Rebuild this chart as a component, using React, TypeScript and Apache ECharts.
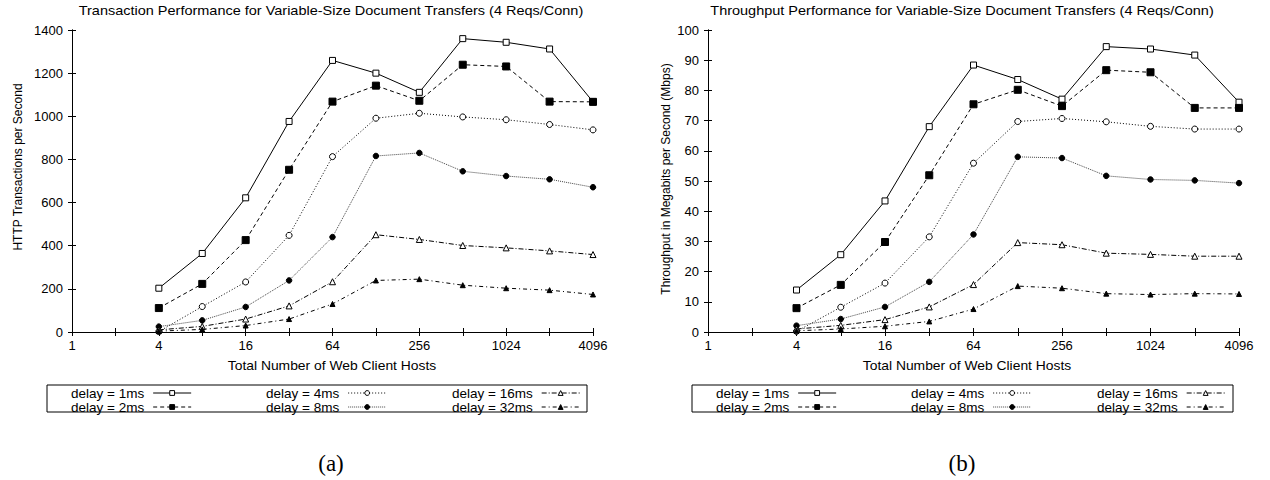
import React, { useEffect, useRef } from "react";
import * as echarts from "echarts";

// ---- data ----
const hosts = [4, 8, 16, 32, 64, 128, 256, 512, 1024, 2048, 4096];
const seriesNames = ["delay = 1ms", "delay = 2ms", "delay = 4ms", "delay = 8ms", "delay = 16ms", "delay = 32ms"];

const tps1 = [203, 364, 622, 976, 1259, 1200, 1111, 1360, 1343, 1312, 1067];
const tps2 = [111, 223, 426, 752, 1068, 1142, 1072, 1239, 1231, 1068, 1067];
const tps4 = [2, 118, 232, 448, 813, 991, 1014, 997, 984, 962, 937];
const tps8 = [25, 54, 116, 239, 440, 816, 830, 745, 723, 708, 671];
const tps16 = [10, 26, 60, 121, 233, 451, 429, 401, 390, 376, 359];
const tps32 = [4, 12, 30, 60, 130, 239, 245, 217, 203, 194, 174];

const mbps1 = [13.9, 25.6, 43.4, 68.0, 88.4, 83.6, 77.1, 94.5, 93.7, 91.7, 76.1];
const mbps2 = [7.9, 15.6, 29.8, 51.9, 75.4, 80.2, 74.8, 86.7, 86.0, 74.2, 74.2];
const mbps4 = [0.2, 8.2, 16.2, 31.5, 55.9, 69.7, 70.7, 69.6, 68.1, 67.2, 67.2];
const mbps8 = [2.1, 4.3, 8.3, 16.6, 32.3, 58.0, 57.6, 51.7, 50.5, 50.2, 49.3];
const mbps16 = [1.0, 2.2, 4.1, 8.3, 15.7, 29.6, 28.9, 26.1, 25.7, 25.1, 25.1];
const mbps32 = [0.4, 1.0, 1.9, 3.5, 7.6, 15.2, 14.5, 12.7, 12.4, 12.7, 12.6];

const tpsSets = [tps1, tps2, tps4, tps8, tps16, tps32];
const mbpsSets = [mbps1, mbps2, mbps4, mbps8, mbps16, mbps32];

// x axis: exponent of 2, from 2^0 to 2^12
const xExpMin = 0;
const xExpMax = 12;
const xLabelValues = [1, 4, 16, 64, 256, 1024, 4096];
const tpsAxis = { min: 0, max: 1400, interval: 200 };
const mbpsAxis = { min: 0, max: 100, interval: 10 };

const titleA = "Transaction Performance for Variable-Size Document Transfers (4 Reqs/Conn)";
const titleB = "Throughput Performance for Variable-Size Document Transfers (4 Reqs/Conn)";
const yNameA = "HTTP Transactions per Second";
const yNameB = "Throughput in Megabits per Second (Mbps)";
const xName = "Total Number of Web Client Hosts";

// ---- styles ----
const FONT = "'Liberation Sans', Arial, Helvetica, sans-serif";
const styles = [
  { symbol: "rect", size: 6, fill: "#fff", dash: "solid", lineColor: "#000" },
  { symbol: "rect", size: 7, fill: "#000", dash: [4, 3], lineColor: "#000" },
  { symbol: "circle", size: 6, fill: "#fff", dash: [1, 2], lineColor: "#000" },
  { symbol: "circle", size: 5.5, fill: "#000", dash: [1, 1], lineColor: "#444" },
  { symbol: "triangle", size: 6, fill: "#fff", dash: [5, 2, 1, 2], lineColor: "#000" },
  { symbol: "triangle", size: 5, fill: "#000", dash: [4, 3, 1, 3], lineColor: "#000" },
];

function makeSeries(sets: number[][], xi: number, yi: number) {
  return sets.map((vals, k) => {
    const st = styles[k];
    return {
      type: "line",
      name: seriesNames[k],
      xAxisIndex: xi,
      yAxisIndex: yi,
      data: hosts.map((h, i) => [Math.log2(h), vals[i]]),
      symbol: st.symbol,
      symbolSize: st.size,
      showAllSymbol: true,
      clip: false,
      color: st.lineColor,
      lineStyle: { color: st.lineColor, width: 1, type: st.dash },
      itemStyle: { color: st.fill, borderColor: "#000", borderWidth: 1 },
      emphasis: { disabled: true },
      z: 3,
    };
  });
}

function xAxes(gridIndex: number) {
  const common = {
    type: "value",
    gridIndex,
    min: xExpMin,
    max: xExpMax,
    interval: 1,
    splitLine: { show: false },
    axisLine: { show: true, lineStyle: { color: "#000", width: 1 } },
    axisTick: { show: true, inside: true, length: 4, lineStyle: { color: "#000" } },
  };
  return [
    {
      ...common,
      position: "bottom",
      axisLabel: {
        show: true,
        interval: 0,
        margin: 7,
        color: "#000",
        fontSize: 13,
        fontFamily: FONT,
        showMinLabel: true,
        showMaxLabel: true,
        formatter: (v: number) => {
          const n = Math.pow(2, v);
          return xLabelValues.includes(n) ? String(n) : "";
        },
      },
    },
    { ...common, position: "top", axisLabel: { show: false } },
  ];
}

function yAxes(gridIndex: number, ax: { min: number; max: number; interval: number }) {
  const common = {
    type: "value",
    gridIndex,
    min: ax.min,
    max: ax.max,
    interval: ax.interval,
    splitLine: { show: false },
    axisLine: { show: true, lineStyle: { color: "#000", width: 1 } },
    axisTick: { show: true, inside: true, length: 4, lineStyle: { color: "#000" } },
  };
  return [
    {
      ...common,
      position: "left",
      axisLabel: {
        show: true,
        margin: 9,
        color: "#000",
        fontSize: 13,
        fontFamily: FONT,
        showMinLabel: true,
        showMaxLabel: true,
        formatter: (v: number) => String(v),
      },
    },
    { ...common, position: "right", axisLabel: { show: false } },
  ];
}

const legendCols = [
  [71, 266, 452],
  [716, 911, 1097],
];

function legends() {
  const out: any[] = [];
  legendCols.forEach((cols) => {
    cols.forEach((x, c) => {
      out.push({
        orient: "vertical",
        align: "right",
        left: x,
        top: 386,
        padding: 0,
        itemWidth: 38,
        itemHeight: 6,
        itemGap: 0,
        selectedMode: false,
        data: [seriesNames[2 * c], seriesNames[2 * c + 1]],
        textStyle: { fontSize: 13.5, lineHeight: 13.5, color: "#000", fontFamily: FONT, padding: [0, 4, 0, 0] },
        lineStyle: { width: 1 },
        itemStyle: { borderWidth: 1 },
      });
    });
  });
  return out;
}

function txt(text: string, x: number, y: number, size: number, opts: any = {}) {
  return {
    type: "text",
    x,
    y,
    rotation: opts.rotation || 0,
    scaleX: opts.scaleX || 1,
    scaleY: opts.scaleY || 1,
    style: {
      text,
      fill: "#000",
      font: `${size}px ${opts.family || FONT}`,
      textAlign: "center",
      textVerticalAlign: "middle",
    },
    silent: true,
  };
}

export default function App() {
  const ref = useRef<HTMLDivElement>(null);
  useEffect(() => {
    if (!ref.current) return;
    const chart = echarts.init(ref.current, undefined, { renderer: "svg" });
    chart.setOption({
      animation: false,
      backgroundColor: "#fff",
      grid: [
        { left: 72, top: 30, width: 521, height: 302 },
        { left: 708, top: 30, width: 531, height: 302 },
      ],
      xAxis: [...xAxes(0), ...xAxes(1)],
      yAxis: [...yAxes(0, tpsAxis), ...yAxes(1, mbpsAxis)],
      legend: legends(),
      series: [...makeSeries(tpsSets, 0, 0), ...makeSeries(mbpsSets, 2, 2)],
      graphic: [
        txt(titleA, 331, 11, 12.5, { scaleX: 1.16 }),
        txt(titleB, 962, 11, 12.5, { scaleX: 1.16 }),
        txt(yNameA, 17, 167, 12, { rotation: Math.PI / 2, scaleY: 1.12 }),
        txt(yNameB, 665, 179, 12, { rotation: Math.PI / 2, scaleY: 1.12 }),
        txt(xName, 332, 366, 12.5, { scaleX: 1.11 }),
        txt(xName, 967, 366, 12.5, { scaleX: 1.11 }),
        {
          type: "rect",
          shape: { x: 47, y: 385, width: 540, height: 27 },
          style: { fill: "none", stroke: "#000", lineWidth: 1 },
          silent: true,
        },
        {
          type: "rect",
          shape: { x: 692, y: 385, width: 541, height: 27 },
          style: { fill: "none", stroke: "#000", lineWidth: 1 },
          silent: true,
        },
        txt("(a)", 331, 463, 23, { family: "'Liberation Serif', 'DejaVu Serif', serif" }),
        txt("(b)", 962, 463, 23, { family: "'Liberation Serif', 'DejaVu Serif', serif" }),
      ],
    });
    return () => chart.dispose();
  }, []);
  return <div ref={ref} style={{ position: "absolute", left: 0, top: 0, width: 1270, height: 480 }} />;
}
